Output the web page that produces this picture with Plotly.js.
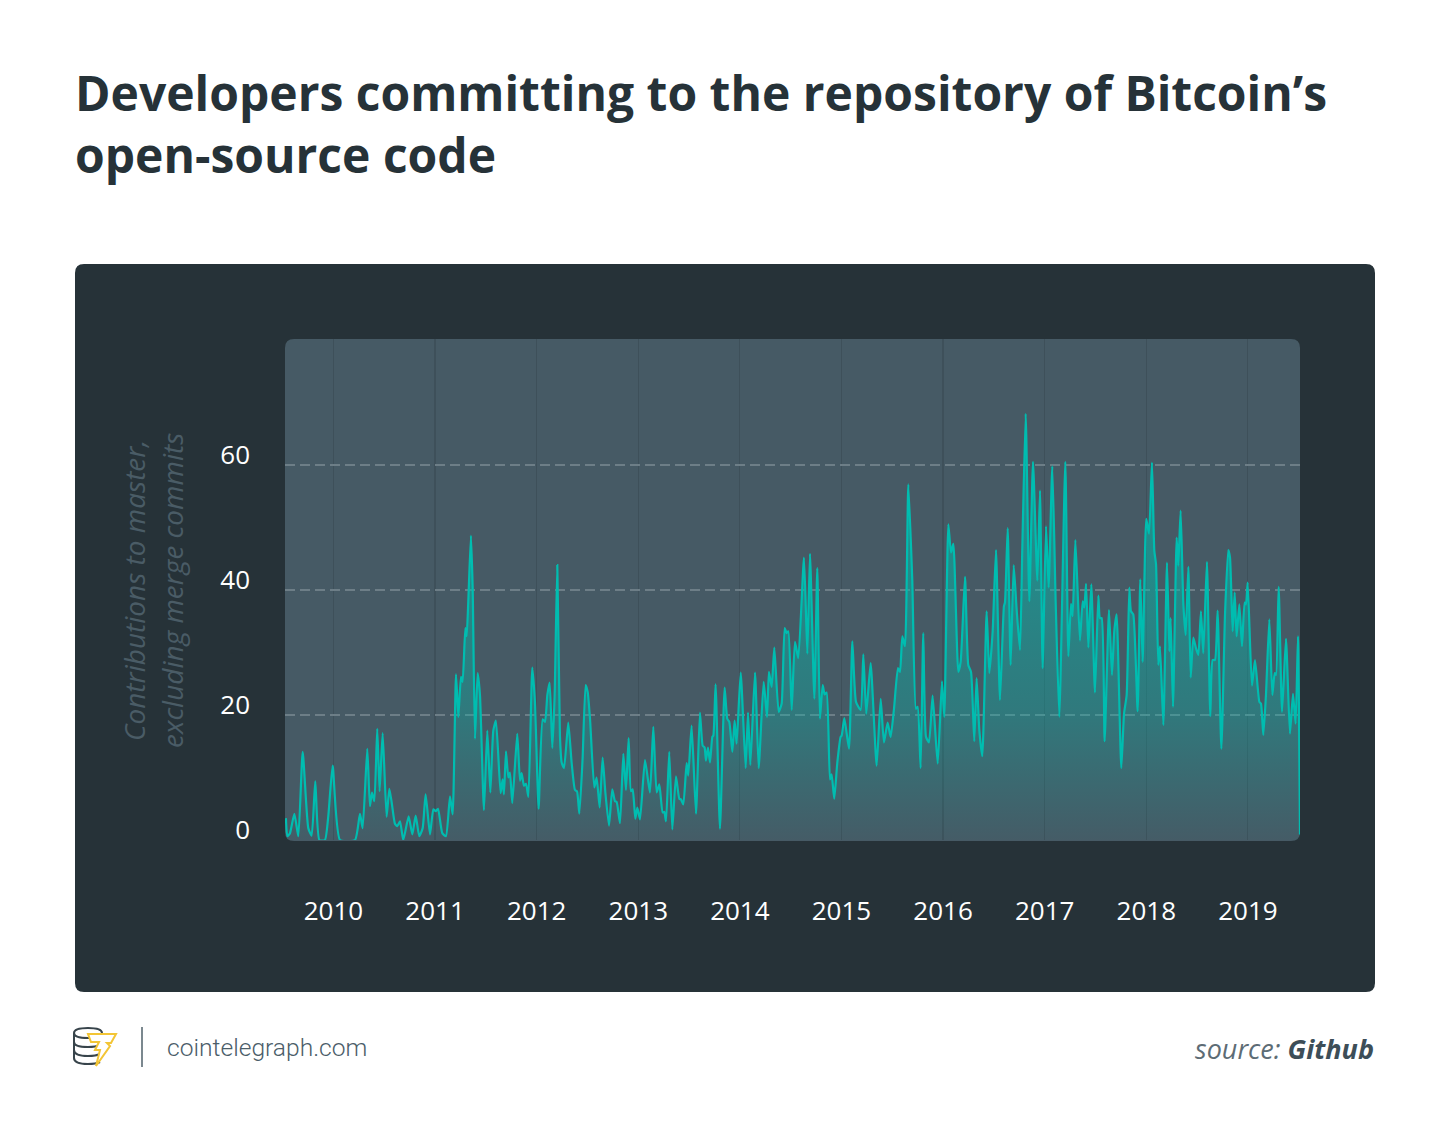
<!DOCTYPE html>
<html>
<head>
<meta charset="utf-8">
<script src="https://cdn.plot.ly/plotly-3.0.1.min.js"></script>
<style>
  html, body { margin: 0; padding: 0; background: #ffffff; }
  #chart { width: 1450px; height: 1133px; }
</style>
</head>
<body>
<div id="chart"></div>
<script>
// ---- Data ----
const weekYears = [
  2009.532, 2009.546, 2009.572, 2009.615, 2009.654, 2009.697, 2009.752, 2009.785, 2009.821, 2009.861,
  2009.916, 2009.949, 2009.992, 2010.064, 2010.212, 2010.261, 2010.287, 2010.333, 2010.359, 2010.379,
  2010.402, 2010.431, 2010.454, 2010.484, 2010.523, 2010.550, 2010.573, 2010.605, 2010.628, 2010.655,
  2010.687, 2010.740, 2010.776, 2010.809, 2010.845, 2010.878, 2010.907, 2010.950, 2010.983, 2011.006,
  2011.029, 2011.071, 2011.107, 2011.147,
  2011.173, 2011.206, 2011.229, 2011.255, 2011.271, 2011.298, 2011.311, 2011.327, 2011.353, 2011.370,
  2011.393, 2011.419, 2011.442, 2011.481, 2011.514, 2011.544, 2011.573, 2011.599, 2011.645, 2011.665,
  2011.678, 2011.698, 2011.721, 2011.737, 2011.760, 2011.809, 2011.836, 2011.852, 2011.875, 2011.895,
  2011.918, 2011.957, 2011.983, 2012.019, 2012.059, 2012.082, 2012.105, 2012.128, 2012.154, 2012.177,
  2012.203, 2012.229, 2012.246, 2012.269, 2012.311, 2012.344, 2012.377, 2012.397, 2012.420, 2012.452,
  2012.482, 2012.502, 2012.525, 2012.567, 2012.590, 2012.620, 2012.649, 2012.676, 2012.712, 2012.744,
  2012.771, 2012.787, 2012.820,
  2012.853, 2012.879, 2012.905, 2012.928, 2012.945, 2012.971, 2012.991, 2013.017, 2013.066, 2013.115,
  2013.148, 2013.181, 2013.207, 2013.240, 2013.256, 2013.273, 2013.305, 2013.335, 2013.371, 2013.404,
  2013.420, 2013.443, 2013.476, 2013.492, 2013.525, 2013.568, 2013.607, 2013.634, 2013.653, 2013.666,
  2013.686, 2013.706, 2013.729, 2013.739, 2013.761, 2013.804, 2013.850, 2013.876, 2013.896, 2013.926,
  2013.948, 2013.968, 2014.008, 2014.057, 2014.080, 2014.103, 2014.149, 2014.185, 2014.234, 2014.267,
  2014.286, 2014.313, 2014.339, 2014.382, 2014.411, 2014.441, 2014.460, 2014.477,
  2014.510, 2014.542, 2014.575, 2014.631, 2014.664, 2014.690, 2014.733, 2014.762, 2014.788, 2014.815,
  2014.834, 2014.854, 2014.887, 2014.903, 2014.929, 2014.959, 2014.992, 2015.002, 2015.028, 2015.074,
  2015.107, 2015.143, 2015.189, 2015.215, 2015.244, 2015.287, 2015.346, 2015.386, 2015.418, 2015.454,
  2015.484, 2015.517, 2015.556, 2015.576, 2015.599, 2015.625, 2015.658, 2015.697, 2015.733, 2015.750,
  2015.779, 2015.805, 2015.832, 2015.861, 2015.897, 2015.947, 2015.989, 2016.012, 2016.052, 2016.078,
  2016.101, 2016.150, 2016.173, 2016.216, 2016.248,
  2016.275, 2016.307, 2016.330, 2016.357, 2016.386, 2016.429, 2016.455, 2016.488, 2016.521, 2016.560,
  2016.599, 2016.609, 2016.636, 2016.665, 2016.695, 2016.724, 2016.757, 2016.780, 2016.813, 2016.849,
  2016.885, 2016.928, 2016.954, 2016.980, 2017.013, 2017.039, 2017.075, 2017.108, 2017.144, 2017.203,
  2017.233, 2017.259, 2017.275, 2017.302, 2017.347, 2017.374, 2017.390, 2017.407, 2017.430, 2017.459,
  2017.495, 2017.528, 2017.544, 2017.561, 2017.590, 2017.633, 2017.662, 2017.685, 2017.708, 2017.754,
  2017.781, 2017.807, 2017.833, 2017.849, 2017.872, 2017.915,
  2017.941, 2017.964, 2018.000, 2018.027, 2018.056, 2018.079, 2018.096, 2018.118, 2018.135, 2018.168,
  2018.204, 2018.227, 2018.240, 2018.263, 2018.299, 2018.315, 2018.338, 2018.365, 2018.388, 2018.414,
  2018.437, 2018.463, 2018.489, 2018.512, 2018.538, 2018.561, 2018.597, 2018.630, 2018.653, 2018.676,
  2018.702, 2018.739, 2018.775, 2018.807, 2018.824, 2018.850, 2018.870, 2018.889, 2018.916, 2018.942,
  2018.968, 2018.981, 2018.998, 2019.040, 2019.070, 2019.113, 2019.129, 2019.152, 2019.178, 2019.211,
  2019.241, 2019.264, 2019.277, 2019.303, 2019.336, 2019.375, 2019.414, 2019.444, 2019.470, 2019.493,
  2019.513
];

const contributions = [
  3.5, 0.6, 1.1, 4.2, 0.6, 14.1, 1.9, 0.7, 9.4, 0,
  0, 3.8, 11.9, 0, 0, 4.2, 1.9, 14.6, 5.4, 7.6,
  6.2, 17.8, 7.8, 17.1, 3.7, 8.2, 6.0, 2.6, 2.2, 3.0,
  0, 3.8, 0.9, 3.9, 0.6, 1.9, 7.3, 0.9, 4.9, 4.6,
  5.0, 1.1, 0.6, 7.0,
  4.1, 26.5, 19.7, 26.1, 25.3, 33.9, 32.6, 38.2, 48.7, 40.4,
  16.2, 26.7, 23.2, 4.8, 17.5, 7.6, 17.5, 19.1, 7.5, 9.7,
  7.3, 14.2, 10.0, 10.8, 5.9, 17.0, 9.5, 10.7, 8.7, 9.0,
  6.9, 27.6, 22.1, 5.0, 19.3, 18.9, 23.2, 25.2, 14.7, 23.2,
  44.0, 16.7, 12.4, 11.5, 18.8, 12.4, 8.0, 7.8, 4.2, 13.0,
  24.8, 23.7, 19.4, 8.4, 10.0, 5.2, 13.2, 7.6, 2.3, 8.1,
  6.2, 6.1, 2.7,
  13.8, 8.0, 16.3, 7.8, 8.1, 3.4, 5.2, 3.3, 12.8, 7.6,
  18.1, 7.6, 8.9, 4.4, 4.5, 3.0, 14.1, 1.7, 10.2, 6.6,
  6.5, 5.7, 12.3, 10.3, 18.3, 4.2, 20.4, 15.1, 14.8, 12.7,
  14.8, 12.4, 16.5, 16.7, 24.9, 1.8, 24.4, 19.4, 18.9, 14.1,
  19.1, 15.4, 26.8, 11.5, 20.4, 12.0, 26.8, 11.5, 25.3, 19.7,
  26.9, 24.5, 30.8, 20.5, 21.8, 33.9, 33.1, 33.4,
  20.8, 31.7, 29.1, 45.2, 29.8, 45.8, 22.6, 43.5, 19.4, 24.8,
  23.3, 23.6, 9.7, 10.5, 6.6, 12.4, 16.5, 16.7, 19.5, 14.6,
  31.8, 22.1, 20.8, 29.7, 20.2, 28.3, 11.9, 22.6, 15.6, 18.8,
  16.5, 21.0, 27.5, 26.9, 32.6, 31.0, 56.9, 41.5, 21.0, 21.3,
  11.5, 33.1, 16.5, 15.6, 23.1, 12.2, 25.4, 19.7, 50.5, 46.0,
  47.4, 26.9, 28.5, 42.1, 28.0,
  26.9, 15.8, 25.9, 17.5, 13.4, 36.6, 26.7, 33.4, 46.4, 22.4,
  37.4, 38.0, 49.9, 28.0, 44.0, 36.9, 30.4, 46.8, 68.2, 38.2,
  60.5, 41.5, 55.9, 27.5, 50.2, 40.4, 59.8, 38.2, 19.7, 60.5,
  29.4, 37.8, 35.8, 48.0, 31.9, 38.2, 37.2, 41.0, 30.8, 40.9,
  23.6, 39.1, 35.5, 35.5, 15.8, 36.8, 26.4, 33.4, 36.1, 11.5,
  20.2, 23.2, 40.4, 36.6, 36.1, 20.6,
  41.7, 28.5, 51.4, 49.0, 60.4, 46.3, 44.1, 28.0, 31.0, 18.4,
  44.4, 30.2, 35.5, 21.3, 48.4, 43.9, 52.7, 37.7, 32.8, 43.7,
  26.0, 32.4, 30.7, 29.6, 36.6, 29.9, 44.5, 19.8, 28.8, 28.8,
  36.7, 14.6, 36.1, 46.4, 45.2, 33.4, 39.6, 32.6, 37.7, 31.0,
  38.0, 37.7, 41.2, 24.7, 28.8, 22.1, 21.8, 16.8, 23.2, 35.3,
  23.2, 26.7, 26.4, 40.5, 20.5, 32.2, 17.0, 23.4, 18.6, 32.6,
  0.9
];

const yearTicks = [2010, 2011, 2012, 2013, 2014, 2015, 2016, 2017, 2018, 2019];
const yearLabels = ["2010", "2011", "2012", "2013", "2014", "2015", "2016", "2017", "2018", "2019"];
const valueTicks = [0, 20, 40, 60];
const valueLabels = ["0", "20", "40", "60"];

const titleText = "Developers committing to the repository of Bitcoin’s<br>open-source code";
const yTitleLines = ["Contributions to master,", "excluding merge commits"];
const siteText = "cointelegraph.com";
const sourceLabel = "source:";
const sourceName = "Github";

// ---- Layout helpers (pixel -> paper) ----
const W = 1450, H = 1133;
const PL = 285, PR = 1300, PT = 339, PB = 840;
function px(x) { return (x - PL) / (PR - PL); }
function py(y) { return (PB - y) / (PB - PT); }
function rrect(x0, y0, x1, y1, r) {
  const p = (x, y) => px(x).toFixed(5) + ',' + py(y).toFixed(5);
  return 'M' + p(x0 + r, y0) + ' L' + p(x1 - r, y0) + ' Q' + p(x1, y0) + ' ' + p(x1, y0 + r) +
    ' L' + p(x1, y1 - r) + ' Q' + p(x1, y1) + ' ' + p(x1 - r, y1) +
    ' L' + p(x0 + r, y1) + ' Q' + p(x0, y1) + ' ' + p(x0, y1 - r) +
    ' L' + p(x0, y0 + r) + ' Q' + p(x0, y0) + ' ' + p(x0 + r, y0) + ' Z';
}
function pathPx(cmds) {
  return cmds.map(c => {
    let s = c[0];
    for (let i = 1; i < c.length; i += 2) s += (i > 1 ? ' ' : '') + px(c[i]).toFixed(5) + ',' + py(c[i + 1]).toFixed(5);
    return s;
  }).join(' ');
}

const teal = '#00bdb0';

const trace = {
  x: weekYears,
  y: contributions,
  type: 'scatter',
  mode: 'lines',
  line: { color: teal, width: 2.2, shape: 'spline', smoothing: 0.5 },
  fill: 'tozeroy',
  fillgradient: {
    type: 'vertical',
    start: 0,
    stop: 70,
    colorscale: [
      [0, 'rgba(0,189,176,0.02)'],
      [0.3, 'rgba(0,189,176,0.32)'],
      [0.6, 'rgba(0,189,176,0.47)'],
      [1, 'rgba(0,189,176,0.6)']
    ]
  },
  hoverinfo: 'skip',
  showlegend: false
};

const shapes = [
  { type: 'path', xref: 'paper', yref: 'paper', layer: 'below', path: rrect(75, 264, 1375, 992, 9),
    fillcolor: '#263238', line: { width: 0 } },
  { type: 'path', xref: 'paper', yref: 'paper', layer: 'below', path: rrect(285, 339, 1300, 841, 9),
    fillcolor: '#465a65', line: { width: 0 } },
  // coin stack (logo)
  { type: 'path', xref: 'paper', yref: 'paper', layer: 'above',
    path: pathPx([['M', 74, 1033], ['Q', 74, 1028, 88, 1028], ['Q', 102, 1028, 102, 1033], ['Q', 102, 1038, 88, 1038], ['Q', 74, 1038, 74, 1033], ['Z']]),
    fillcolor: 'rgba(0,0,0,0)', line: { color: '#38444b', width: 2 } },
  { type: 'path', xref: 'paper', yref: 'paper', layer: 'above',
    path: pathPx([['M', 74, 1033], ['L', 74, 1058], ['Q', 74, 1064, 88, 1064], ['Q', 96, 1064, 100, 1062]]),
    fillcolor: 'rgba(0,0,0,0)', line: { color: '#38444b', width: 2 } },
  { type: 'path', xref: 'paper', yref: 'paper', layer: 'above',
    path: pathPx([['M', 74, 1042], ['Q', 74, 1047, 88, 1047], ['Q', 96, 1047, 100, 1045]]),
    fillcolor: 'rgba(0,0,0,0)', line: { color: '#38444b', width: 2 } },
  { type: 'path', xref: 'paper', yref: 'paper', layer: 'above',
    path: pathPx([['M', 74, 1050], ['Q', 74, 1056, 88, 1056], ['Q', 96, 1056, 100, 1054]]),
    fillcolor: 'rgba(0,0,0,0)', line: { color: '#38444b', width: 2 } },
  // lightning (logo)
  { type: 'path', xref: 'paper', yref: 'paper', layer: 'above',
    path: pathPx([['M', 88, 1034], ['L', 116, 1034], ['L', 111, 1043], ['L', 107, 1043], ['L', 110, 1046],
                  ['L', 96, 1066], ['L', 100, 1050], ['L', 95, 1050], ['L', 99, 1042], ['L', 91, 1042], ['Z']]),
    fillcolor: '#ffffff', line: { color: '#f3c535', width: 2 } },
  // separator
  { type: 'line', xref: 'paper', yref: 'paper', layer: 'above',
    x0: px(142), x1: px(142), y0: py(1027), y1: py(1067), line: { color: '#7b888f', width: 2 } }
];

const annotations = [
  { xref: 'paper', yref: 'paper', x: px(73), y: py(58), xanchor: 'left', yanchor: 'top', align: 'left',
    showarrow: false, text: titleText,
    font: { family: 'Open Sans', size: 48, weight: 700, color: '#263238' } },
  { xref: 'paper', yref: 'paper', x: px(134), y: py(591), xanchor: 'center', yanchor: 'middle',
    showarrow: false, textangle: -90, text: yTitleLines[0],
    font: { family: 'Open Sans', size: 28, style: 'italic', color: '#4a5c66' } },
  { xref: 'paper', yref: 'paper', x: px(172), y: py(591), xanchor: 'center', yanchor: 'middle',
    showarrow: false, textangle: -90, text: yTitleLines[1],
    font: { family: 'Open Sans', size: 28, style: 'italic', color: '#4a5c66' } },
  { xref: 'paper', yref: 'paper', x: px(165), y: py(1047), xanchor: 'left', yanchor: 'middle',
    showarrow: false, text: siteText,
    font: { family: 'Roboto', size: 24.6, weight: 300, color: '#4b5d69' } },
  { xref: 'paper', yref: 'paper', x: px(1376), y: py(1048), xanchor: 'right', yanchor: 'middle',
    showarrow: false,
    text: '<span style="color:#5d6c75"><i>' + sourceLabel + '</i></span> <span style="color:#3d4e58"><b><i>' + sourceName + '</i></b></span>',
    font: { family: 'Open Sans', size: 27, color: '#5d6c75' } }
];

const layout = {
  width: W, height: H,
  margin: { l: PL, r: W - PR, t: PT, b: H - PB, pad: 0 },
  paper_bgcolor: '#ffffff',
  plot_bgcolor: 'rgba(0,0,0,0)',
  showlegend: false,
  xaxis: {
    type: 'linear',
    range: [2009.523, 2019.513],
    tickmode: 'array', tickvals: yearTicks, ticktext: yearLabels,
    showgrid: true, gridcolor: '#3e505a', gridwidth: 1.2,
    zeroline: false, showline: false, ticks: '',
    ticklabelstandoff: 53,
    tickfont: { family: 'Open Sans', size: 26, color: '#ffffff' },
    fixedrange: true
  },
  yaxis: {
    range: [0, 80.16],
    tickmode: 'array', tickvals: valueTicks, ticktext: valueLabels,
    showgrid: true, gridcolor: '#6d7e87', gridwidth: 1.5, griddash: '10px,5px',
    zeroline: false, showline: false, ticks: '',
    ticklabelstandoff: 34, ticklabelshift: -10,
    tickfont: { family: 'Open Sans', size: 26, color: '#ffffff' },
    fixedrange: true
  },
  shapes: shapes,
  annotations: annotations
};

Plotly.newPlot('chart', [trace], layout, { staticPlot: true, displayModeBar: false });
</script>
</body>
</html>
